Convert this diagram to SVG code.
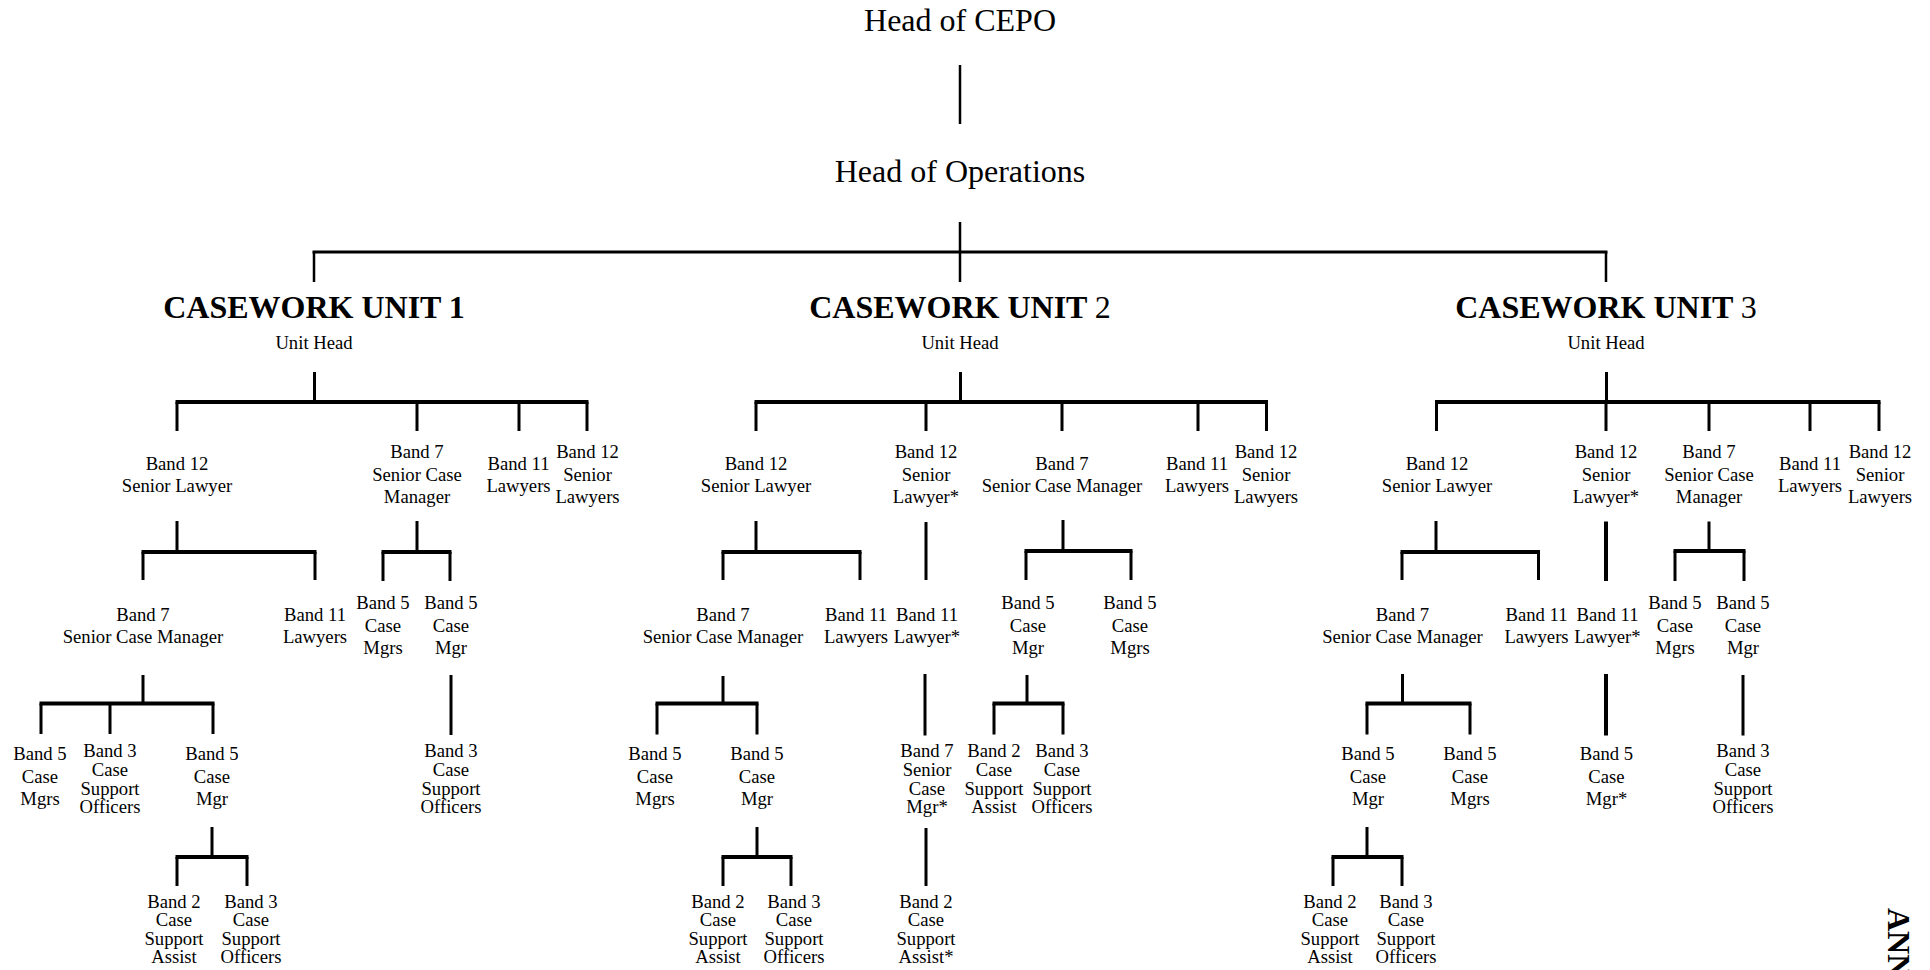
<svg xmlns="http://www.w3.org/2000/svg" width="1930" height="970" viewBox="0 0 1930 970">
<style>
text{font-family:"Liberation Serif","Times New Roman",serif;fill:#000;text-anchor:middle}
.h{font-size:32px}
.u{font-size:32px;font-weight:bold}
.n{font-weight:normal}
.t{font-size:18.67px}
.x{font-size:32px;font-weight:bold;text-anchor:start}
path{fill:none;stroke:#000}
.c1{stroke-width:2.5}
.c0{stroke-width:3}
.c2{stroke-width:4}
.c3{stroke-width:3}
.c4{stroke-width:4}
</style>
<rect width="1930" height="970" fill="#fff"/>
<g id="connectors">
<path class="c1" d="M960 65V124M960 222V252M314 252V282M960 252V282M1606 252V282"/>
<path class="c0" d="M312.5 252H1607.5"/>
<!-- unit 1 -->
<path class="c3" d="M314.5 372V402M177 402V431M417 402V431M519 402V431M587 402V431"/>
<path class="c2" d="M175.5 402H588.5"/>
<path class="c3" d="M177 521V552M143 552V580M315 552V580M417 521V552M383 552V581M450 552V581"/>
<path class="c2" d="M141.5 552H316.5M381.5 552H451.5"/>
<path class="c3" d="M143 675V703.5M41 703.5V734M110 703.5V734M213 703.5V734M451 675V735"/>
<path class="c2" d="M39.5 703.5H214.5"/>
<path class="c3" d="M212 827V857M177 857V886M247 857V886"/>
<path class="c2" d="M175.5 857H248.5"/>
<!-- unit 2 -->
<path class="c3" d="M960.5 372V402M756 402V431M926 402V431M1062 402V431M1198 402V431M1266.5 402V431"/>
<path class="c2" d="M754.5 402H1268"/>
<path class="c3" d="M756 521V552M723 552V580M860 552V580M926 522V580M1063 520V551M1026 551V580M1131 551V580"/>
<path class="c2" d="M721.5 552H861.5M1024.5 551H1132.5"/>
<path class="c3" d="M723 676V703.5M657 703.5V734.5M757 703.5V734.5M925 674V735.5M1027 675V703.5M994 703.5V734.5M1063 703.5V734.5"/>
<path class="c2" d="M655.5 703.5H758.5M992.5 703.5H1064.5"/>
<path class="c3" d="M757 827V857M723 857V886M791 857V886M926 828V886"/>
<path class="c2" d="M721.5 857H792.5"/>
<!-- unit 3 -->
<path class="c3" d="M1606.5 372V402M1436.5 402V431M1606 402V431M1709 402V431M1810 402V431M1879 402V431"/>
<path class="c2" d="M1435 402H1880.5"/>
<path class="c3" d="M1436 521V552M1402 552V580M1538.5 552V580M1709 521.5V551M1675 551V581M1744 551V581"/>
<path class="c4" d="M1606 521.5V581"/>
<path class="c2" d="M1400.5 552H1540M1673.5 551H1745.5"/>
<path class="c3" d="M1402.5 674V703.5M1367 703.5V734.5M1470 703.5V734.5M1743 675V735.5"/>
<path class="c4" d="M1606 674V735.5"/>
<path class="c2" d="M1365.5 703.5H1471.5"/>
<path class="c3" d="M1367 827V857M1333 857V886M1402 857V886"/>
<path class="c2" d="M1331.5 857H1403.5"/>
</g>
<g id="head-cepo"><text class="h" x="960" y="31">Head of CEPO</text></g>
<g id="head-ops"><text class="h" x="960" y="182">Head of Operations</text></g>
<g id="unit1"><text class="u" x="314" y="317.5">CASEWORK UNIT 1</text><text class="t" x="314" y="348.5">Unit Head</text></g>
<g id="unit2"><text class="u" x="960" y="317.5">CASEWORK UNIT <tspan class="n">2</tspan></text><text class="t" x="960" y="348.5">Unit Head</text></g>
<g id="unit3"><text class="u" x="1606" y="317.5">CASEWORK UNIT <tspan class="n">3</tspan></text><text class="t" x="1606" y="348.5">Unit Head</text></g>

<!-- Unit 1 level 3 -->
<g id="u1-sl"><text class="t"><tspan x="177" y="470">Band 12</tspan><tspan x="177" y="492.3">Senior Lawyer</tspan></text></g>
<g id="u1-scm"><text class="t"><tspan x="417" y="458">Band 7</tspan><tspan x="417" y="480.5">Senior Case</tspan><tspan x="417" y="503">Manager</tspan></text></g>
<g id="u1-l11"><text class="t"><tspan x="518.5" y="470">Band 11</tspan><tspan x="518.5" y="492.3">Lawyers</tspan></text></g>
<g id="u1-sls"><text class="t"><tspan x="587.5" y="458">Band 12</tspan><tspan x="587.5" y="480.5">Senior</tspan><tspan x="587.5" y="503">Lawyers</tspan></text></g>
<!-- Unit 1 level 4 -->
<g id="u1-scm2"><text class="t"><tspan x="143" y="620.5">Band 7</tspan><tspan x="143" y="642.5">Senior Case Manager</tspan></text></g>
<g id="u1-l11b"><text class="t"><tspan x="315" y="620.5">Band 11</tspan><tspan x="315" y="642.5">Lawyers</tspan></text></g>
<g id="u1-cms"><text class="t"><tspan x="383" y="609">Band 5</tspan><tspan x="383" y="631.5">Case</tspan><tspan x="383" y="654">Mgrs</tspan></text></g>
<g id="u1-cm"><text class="t"><tspan x="451" y="609">Band 5</tspan><tspan x="451" y="631.5">Case</tspan><tspan x="451" y="654">Mgr</tspan></text></g>
<!-- Unit 1 level 5 -->
<g id="u1-cms2"><text class="t"><tspan x="40" y="760">Band 5</tspan><tspan x="40" y="782.5">Case</tspan><tspan x="40" y="805">Mgrs</tspan></text></g>
<g id="u1-cso"><text class="t"><tspan x="110" y="757">Band 3</tspan><tspan x="110" y="776">Case</tspan><tspan x="110" y="794.5">Support</tspan><tspan x="110" y="813">Officers</tspan></text></g>
<g id="u1-cm2"><text class="t"><tspan x="212" y="760">Band 5</tspan><tspan x="212" y="782.5">Case</tspan><tspan x="212" y="805">Mgr</tspan></text></g>
<g id="u1-cso2"><text class="t"><tspan x="451" y="757">Band 3</tspan><tspan x="451" y="776">Case</tspan><tspan x="451" y="794.5">Support</tspan><tspan x="451" y="813">Officers</tspan></text></g>
<!-- Unit 1 level 6 -->
<g id="u1-csa"><text class="t"><tspan x="174" y="907.5">Band 2</tspan><tspan x="174" y="926">Case</tspan><tspan x="174" y="944.5">Support</tspan><tspan x="174" y="963">Assist</tspan></text></g>
<g id="u1-cso3"><text class="t"><tspan x="251" y="907.5">Band 3</tspan><tspan x="251" y="926">Case</tspan><tspan x="251" y="944.5">Support</tspan><tspan x="251" y="963">Officers</tspan></text></g>

<!-- Unit 2 level 3 -->
<g id="u2-sl"><text class="t"><tspan x="756" y="470">Band 12</tspan><tspan x="756" y="492.3">Senior Lawyer</tspan></text></g>
<g id="u2-slstar"><text class="t"><tspan x="926" y="458">Band 12</tspan><tspan x="926" y="480.5">Senior</tspan><tspan x="926" y="503">Lawyer*</tspan></text></g>
<g id="u2-scm"><text class="t"><tspan x="1062" y="470">Band 7</tspan><tspan x="1062" y="492.3">Senior Case Manager</tspan></text></g>
<g id="u2-l11"><text class="t"><tspan x="1197" y="470">Band 11</tspan><tspan x="1197" y="492.3">Lawyers</tspan></text></g>
<g id="u2-sls"><text class="t"><tspan x="1266" y="458">Band 12</tspan><tspan x="1266" y="480.5">Senior</tspan><tspan x="1266" y="503">Lawyers</tspan></text></g>
<!-- Unit 2 level 4 -->
<g id="u2-scm2"><text class="t"><tspan x="723" y="620.5">Band 7</tspan><tspan x="723" y="642.5">Senior Case Manager</tspan></text></g>
<g id="u2-l11b"><text class="t"><tspan x="856" y="620.5">Band 11</tspan><tspan x="856" y="642.5">Lawyers</tspan></text></g>
<g id="u2-l11star"><text class="t"><tspan x="927" y="620.5">Band 11</tspan><tspan x="927" y="642.5">Lawyer*</tspan></text></g>
<g id="u2-cm"><text class="t"><tspan x="1028" y="609">Band 5</tspan><tspan x="1028" y="631.5">Case</tspan><tspan x="1028" y="654">Mgr</tspan></text></g>
<g id="u2-cms"><text class="t"><tspan x="1130" y="609">Band 5</tspan><tspan x="1130" y="631.5">Case</tspan><tspan x="1130" y="654">Mgrs</tspan></text></g>
<!-- Unit 2 level 5 -->
<g id="u2-cms2"><text class="t"><tspan x="655" y="760">Band 5</tspan><tspan x="655" y="782.5">Case</tspan><tspan x="655" y="805">Mgrs</tspan></text></g>
<g id="u2-cm2"><text class="t"><tspan x="757" y="760">Band 5</tspan><tspan x="757" y="782.5">Case</tspan><tspan x="757" y="805">Mgr</tspan></text></g>
<g id="u2-scmstar"><text class="t"><tspan x="927" y="757">Band 7</tspan><tspan x="927" y="776">Senior</tspan><tspan x="927" y="794.5">Case</tspan><tspan x="927" y="813">Mgr*</tspan></text></g>
<g id="u2-csa"><text class="t"><tspan x="994" y="757">Band 2</tspan><tspan x="994" y="776">Case</tspan><tspan x="994" y="794.5">Support</tspan><tspan x="994" y="813">Assist</tspan></text></g>
<g id="u2-cso"><text class="t"><tspan x="1062" y="757">Band 3</tspan><tspan x="1062" y="776">Case</tspan><tspan x="1062" y="794.5">Support</tspan><tspan x="1062" y="813">Officers</tspan></text></g>
<!-- Unit 2 level 6 -->
<g id="u2-csa2"><text class="t"><tspan x="718" y="907.5">Band 2</tspan><tspan x="718" y="926">Case</tspan><tspan x="718" y="944.5">Support</tspan><tspan x="718" y="963">Assist</tspan></text></g>
<g id="u2-cso2"><text class="t"><tspan x="794" y="907.5">Band 3</tspan><tspan x="794" y="926">Case</tspan><tspan x="794" y="944.5">Support</tspan><tspan x="794" y="963">Officers</tspan></text></g>
<g id="u2-csastar"><text class="t"><tspan x="926" y="907.5">Band 2</tspan><tspan x="926" y="926">Case</tspan><tspan x="926" y="944.5">Support</tspan><tspan x="926" y="963">Assist*</tspan></text></g>

<!-- Unit 3 level 3 -->
<g id="u3-sl"><text class="t"><tspan x="1437" y="470">Band 12</tspan><tspan x="1437" y="492.3">Senior Lawyer</tspan></text></g>
<g id="u3-slstar"><text class="t"><tspan x="1606" y="458">Band 12</tspan><tspan x="1606" y="480.5">Senior</tspan><tspan x="1606" y="503">Lawyer*</tspan></text></g>
<g id="u3-scm"><text class="t"><tspan x="1709" y="458">Band 7</tspan><tspan x="1709" y="480.5">Senior Case</tspan><tspan x="1709" y="503">Manager</tspan></text></g>
<g id="u3-l11"><text class="t"><tspan x="1810" y="470">Band 11</tspan><tspan x="1810" y="492.3">Lawyers</tspan></text></g>
<g id="u3-sls"><text class="t"><tspan x="1880" y="458">Band 12</tspan><tspan x="1880" y="480.5">Senior</tspan><tspan x="1880" y="503">Lawyers</tspan></text></g>
<!-- Unit 3 level 4 -->
<g id="u3-scm2"><text class="t"><tspan x="1402.5" y="620.5">Band 7</tspan><tspan x="1402.5" y="642.5">Senior Case Manager</tspan></text></g>
<g id="u3-l11b"><text class="t"><tspan x="1536.5" y="620.5">Band 11</tspan><tspan x="1536.5" y="642.5">Lawyers</tspan></text></g>
<g id="u3-l11star"><text class="t"><tspan x="1607.5" y="620.5">Band 11</tspan><tspan x="1607.5" y="642.5">Lawyer*</tspan></text></g>
<g id="u3-cms"><text class="t"><tspan x="1675" y="609">Band 5</tspan><tspan x="1675" y="631.5">Case</tspan><tspan x="1675" y="654">Mgrs</tspan></text></g>
<g id="u3-cm"><text class="t"><tspan x="1743" y="609">Band 5</tspan><tspan x="1743" y="631.5">Case</tspan><tspan x="1743" y="654">Mgr</tspan></text></g>
<!-- Unit 3 level 5 -->
<g id="u3-cm2"><text class="t"><tspan x="1368" y="760">Band 5</tspan><tspan x="1368" y="782.5">Case</tspan><tspan x="1368" y="805">Mgr</tspan></text></g>
<g id="u3-cms2"><text class="t"><tspan x="1470" y="760">Band 5</tspan><tspan x="1470" y="782.5">Case</tspan><tspan x="1470" y="805">Mgrs</tspan></text></g>
<g id="u3-cmstar"><text class="t"><tspan x="1606.5" y="760">Band 5</tspan><tspan x="1606.5" y="782.5">Case</tspan><tspan x="1606.5" y="805">Mgr*</tspan></text></g>
<g id="u3-cso"><text class="t"><tspan x="1743" y="757">Band 3</tspan><tspan x="1743" y="776">Case</tspan><tspan x="1743" y="794.5">Support</tspan><tspan x="1743" y="813">Officers</tspan></text></g>
<!-- Unit 3 level 6 -->
<g id="u3-csa"><text class="t"><tspan x="1330" y="907.5">Band 2</tspan><tspan x="1330" y="926">Case</tspan><tspan x="1330" y="944.5">Support</tspan><tspan x="1330" y="963">Assist</tspan></text></g>
<g id="u3-cso2"><text class="t"><tspan x="1406" y="907.5">Band 3</tspan><tspan x="1406" y="926">Case</tspan><tspan x="1406" y="944.5">Support</tspan><tspan x="1406" y="963">Officers</tspan></text></g>

<g id="annex"><text class="x" x="1888" y="908" transform="rotate(90 1888 908)">ANN</text></g>
</svg>
